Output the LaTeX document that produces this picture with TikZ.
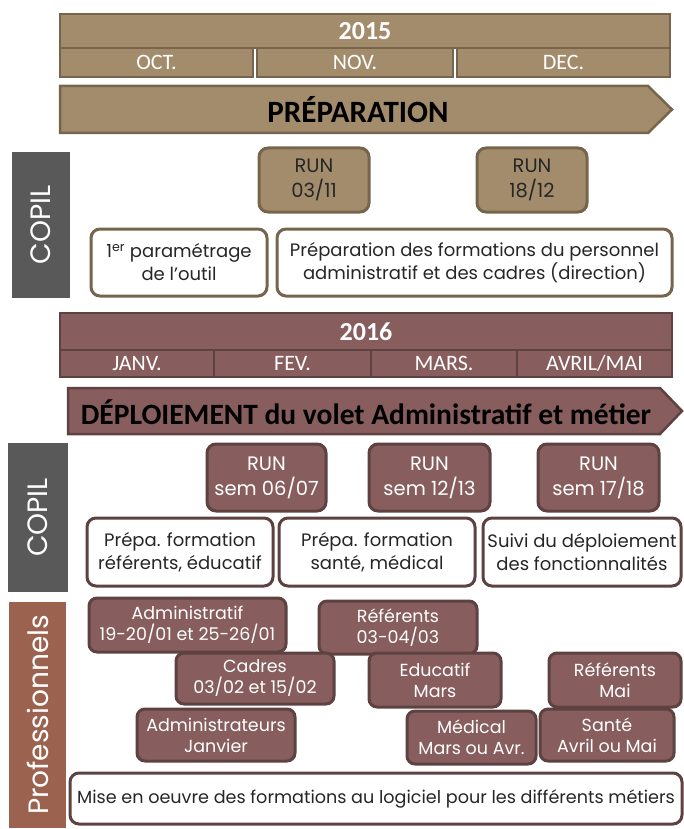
\documentclass[tikz,border=0pt]{standalone}
\usepackage{fontspec}
\setmainfont{Poppins}
\newfontfamily\headfont{Carlito}
\usepackage{tikz}
\usetikzlibrary{positioning}
\definecolor{tanfill}{HTML}{A38C6C}
\definecolor{tanline}{HTML}{76654C}
\definecolor{mauvefill}{HTML}{875E5D}
\definecolor{mauveline}{HTML}{5E4242}
\definecolor{copilgray}{HTML}{595959}
\definecolor{profbrown}{HTML}{9C6250}
\definecolor{textdark}{HTML}{262626}
\tikzset{yearbar/.style={rectangle,inner sep=0pt,line width=2.5pt,draw=#1line,fill=#1fill,text=white,font=\headfont\bfseries\fontsize{26}{26}\selectfont}}
\tikzset{monthbox/.style={rectangle,inner sep=0pt,line width=2.5pt,draw=#1line,fill=#1fill,text=white,font=\headfont\fontsize{22}{22}\selectfont}}
\tikzset{phase/.style={line width=2.5pt,draw=#1line,fill=#1fill}}
\tikzset{phasetext/.style={inner sep=0pt,text=black,font=\headfont\bfseries\fontsize{#1}{#1}\selectfont}}
\tikzset{sidebar/.style={rectangle,rotate=90,inner sep=0pt,fill=#1,text=white,font=\fontsize{28}{28}\selectfont}}
\tikzset{runbox/.style={rectangle,rounded corners=9pt,inner sep=0pt,line width=3pt,draw=#1line,fill=#1fill,align=center,font=\fontsize{19.5}{25}\selectfont}}
\tikzset{taskbox/.style={rectangle,rounded corners=9pt,inner sep=0pt,line width=3pt,draw=#1line,fill=white,text=textdark,align=center,font=\fontsize{18}{23}\selectfont}}
\tikzset{trainbox/.style={rectangle,rounded corners=8pt,inner sep=0pt,line width=3pt,draw=mauveline,fill=mauvefill,text=white,align=center,font=\fontsize{17.5}{21}\selectfont}}

\begin{document}
\begin{tikzpicture}[x=1pt,y=-1pt]
  \useasboundingbox (0,0) rectangle (684,829);
  % 2015
  \node[yearbar=tan,minimum width=610pt,minimum height=34pt] (y15) at (365,31) {2015};
  \node[monthbox=tan,minimum width=193pt,minimum height=29pt] (oct) at (156.5,62.5) {OCT.};
  \node[monthbox=tan,minimum width=196pt,minimum height=29pt] (nov) at (355,62.5) {NOV.};
  \node[monthbox=tan,minimum width=213pt,minimum height=29pt] (dec) at (563.5,62.5) {DEC.};
  \draw[phase=tan] (60,86) -- (648,86) -- (672,109.5) -- (648,133) -- (60,133) -- cycle;
  \node[phasetext=31] (prep) at (358,110) {PRÉPARATION};
  \node[sidebar=copilgray,minimum width=146pt,minimum height=58pt] (copil15) at (41,225) {COPIL};
  \node[runbox=tan,text=textdark,minimum width=110pt,minimum height=64pt] (run1) at (314,180) {RUN\\03/11};
  \node[runbox=tan,text=textdark,minimum width=110pt,minimum height=64pt] (run2) at (532,180) {RUN\\18/12};
  \node[taskbox=tan,minimum width=176pt,minimum height=67pt] (param) at (179,262.5) {1\textsuperscript{er} paramétrage\\de l’outil};
  \node[taskbox=tan,minimum width=395pt,minimum height=67pt] (prepform) at (474.5,262.5) {Préparation des formations du personnel\\administratif et des cadres (direction)};

  % 2016
  \node[yearbar=mauve,minimum width=612pt,minimum height=37pt] (y16) at (366,331.5) {2016};
  \node[monthbox=mauve,minimum width=154pt,minimum height=27pt] (janv) at (137,363.5) {JANV.};
  \node[monthbox=mauve,minimum width=157pt,minimum height=27pt] (fev) at (292.5,363.5) {FEV.};
  \node[monthbox=mauve,minimum width=146pt,minimum height=27pt] (mars) at (444,363.5) {MARS.};
  \node[monthbox=mauve,minimum width=155pt,minimum height=27pt] (avril) at (594.5,363.5) {AVRIL/MAI};
  \draw[phase=mauve] (68,388) -- (660,388) -- (682,411) -- (660,434) -- (68,434) -- cycle;
  \node[phasetext=29.5] (deploi) at (366,412) {DÉPLOIEMENT du volet Administratif et métier};
  \node[sidebar=copilgray,minimum width=149pt,minimum height=60pt] (copil16) at (38,517.5) {COPIL};
  \node[runbox=mauve,text=white,minimum width=119pt,minimum height=67pt] (run3) at (266.5,477.5) {RUN\\sem 06/07};
  \node[runbox=mauve,text=white,minimum width=121pt,minimum height=67pt] (run4) at (429.5,477.5) {RUN\\sem 12/13};
  \node[runbox=mauve,text=white,minimum width=121pt,minimum height=67pt] (run5) at (598.5,477.5) {RUN\\sem 17/18};
  \node[taskbox=mauve,minimum width=186pt,minimum height=68pt] (prepref) at (180,552) {Prépa. formation\\référents, éducatif};
  \node[taskbox=mauve,minimum width=196pt,minimum height=68pt] (prepsante) at (377,552) {Prépa. formation\\santé, médical};
  \node[taskbox=mauve,minimum width=198pt,minimum height=68pt] (suivi) at (582,552) {Suivi du déploiement\\des fonctionnalités};

  % professionnels
  \node[sidebar=profbrown,minimum width=226pt,minimum height=57pt] (prof) at (37.5,715) {Professionnels};
  \node[trainbox,minimum width=197pt,minimum height=54pt] (admin) at (187.5,625) {Administratif\\19-20/01 et 25-26/01};
  \node[trainbox,minimum width=158pt,minimum height=53pt] (ref1) at (398,627.5) {Référents\\03-04/03};
  \node[trainbox,minimum width=158pt,minimum height=51pt] (cadres) at (255,678.5) {Cadres\\03/02 et 15/02};
  \node[trainbox,minimum width=132pt,minimum height=54pt] (educ) at (435,680) {Educatif\\Mars};
  \node[trainbox,minimum width=132pt,minimum height=54pt] (ref2) at (615,680) {Référents\\Mai};
  \node[trainbox,minimum width=158pt,minimum height=52pt] (adminsys) at (216,735) {Administrateurs\\Janvier};
  \node[trainbox,minimum width=129pt,minimum height=53pt] (medic) at (471.5,737.5) {Médical\\Mars ou Avr.};
  \node[trainbox,minimum width=134pt,minimum height=52pt] (sante) at (607,735) {Santé\\Avril ou Mai};
  \node[taskbox=mauve,minimum width=612pt,minimum height=51pt,font=\fontsize{17.6}{22}\selectfont] (mise) at (376,798.5) {Mise en oeuvre des formations au logiciel pour les différents métiers};
\end{tikzpicture}
\end{document}
